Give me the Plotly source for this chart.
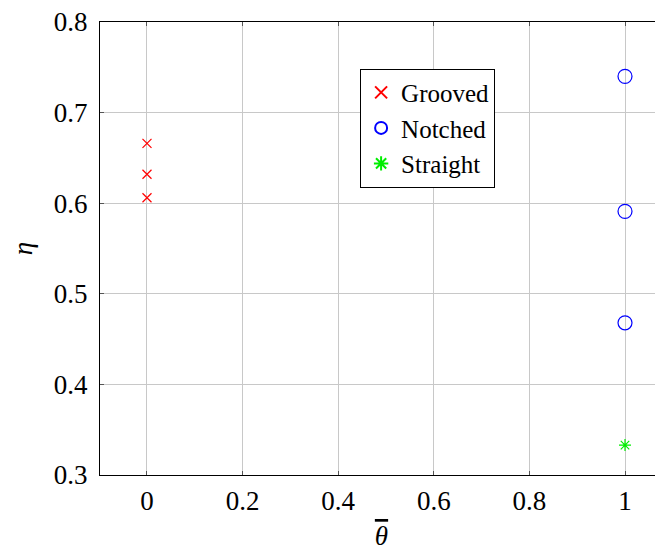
import plotly.graph_objects as go

grooved_x = [0, 0, 0]
grooved_y = [0.666, 0.632, 0.606]
notched_x = [1, 1, 1]
notched_y = [0.740, 0.591, 0.468]
straight_x = [1]
straight_y = [0.333]
x_ticks = [0, 0.2, 0.4, 0.6, 0.8, 1]
x_tick_labels = ["0", "0.2", "0.4", "0.6", "0.8", "1"]
y_ticks = [0.3, 0.4, 0.5, 0.6, 0.7, 0.8]
y_tick_labels = ["0.3", "0.4", "0.5", "0.6", "0.7", "0.8"]

FONT = "Liberation Serif"
FS = 27

fig = go.Figure()
fig.add_trace(go.Scatter(x=grooved_x, y=grooved_y, mode="markers", name="Grooved",
                         marker=dict(symbol="x-thin", size=9, line=dict(color="red", width=1.2), color="red")))
fig.add_trace(go.Scatter(x=notched_x, y=notched_y, mode="markers", name="Notched",
                         marker=dict(symbol="circle-open", size=14, color="blue", line=dict(color="blue", width=1.2))))
fig.add_trace(go.Scatter(x=straight_x, y=straight_y, mode="markers", name="Straight",
                         marker=dict(symbol="asterisk-open", size=10, color="#00ee00", line=dict(color="#00ee00", width=1.2))))

axis_common = dict(
    showgrid=True, gridcolor="#c8c8c8", gridwidth=1,
    showline=True, linecolor="black", linewidth=1,
    ticks="inside", ticklen=4, tickcolor="#555555", tickwidth=1,
    zeroline=False, ticklabeloverflow="allow",
    tickfont=dict(family=FONT, size=FS, color="black"),
)

fig.update_layout(
    width=655, height=543,
    margin=dict(l=92, r=0, t=14, b=76, autoexpand=False),
    plot_bgcolor="white", paper_bgcolor="white",
    font=dict(family=FONT, size=FS, color="black"),
    showlegend=True,
    legend=dict(x=0.462, y=0.897, xanchor="left", yanchor="top",
                bordercolor="black", borderwidth=1, bgcolor="white",
                font=dict(family=FONT, size=25), itemwidth=30,
                tracegroupgap=0, itemsizing="constant"),
    xaxis=dict(range=[-0.0983, 1.0795], tickvals=x_ticks, ticktext=x_tick_labels,
               ticklabelstandoff=2, mirror="ticks",
               title=dict(text='<span style="text-decoration:overline"><i>θ</i></span>',
                          font=dict(family=FONT, size=27), standoff=14),
               **axis_common),
    yaxis=dict(range=[0.3, 0.8], tickvals=y_ticks, ticktext=y_tick_labels,
               ticklabelstandoff=6, mirror=False,
               title=dict(text="<i>η</i>", font=dict(family=FONT, size=27), standoff=17),
               **axis_common),
)

fig.write_html("out.html")
